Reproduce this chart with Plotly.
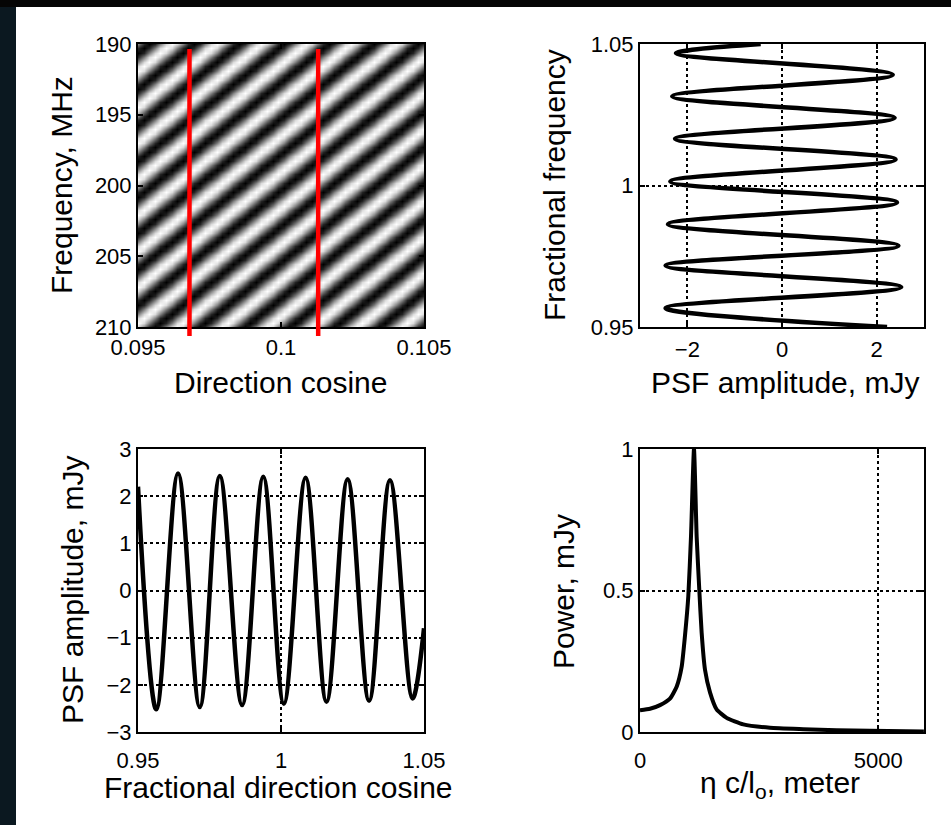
import plotly.graph_objects as go

W, H = 951, 825
FONT = "Liberation Sans, Arial, Helvetica, sans-serif"

# ---------------- data ----------------
# (a) fringe image: direction cosine vs frequency
dircos_ticks = [0.095, 0.1, 0.105]
dircos_ticktext = ["0.095", "0.1", "0.105"]
freq_ticks = [190, 195, 200, 205, 210]
red_line_dircos = [0.0968, 0.1013]
n_dircos = 52   # samples across direction cosine (about 6.5 fringes)
n_freq = 64     # samples across frequency (about 8 fringes)
# brightness read along the image diagonal (8 samples per fringe)
fringe_profile = [
    0, -.71, -1, -.71, 0, .71, 1, .71,
    0, -.71, -1, -.71, 0, .71, 1, .71,
    0, -.71, -1, -.71, 0, .71, 1, .71,
    0, -.71, -1, -.71, 0, .71, 1, .71,
    0, -.71, -1, -.71, 0, .71, 1, .71,
    0, -.71, -1, -.71, 0, .71, 1, .71,
    0, -.71, -1, -.71, 0, .71, 1, .71,
    0, -.71, -1, -.71, 0, .71, 1, .71,
    0, -.71, -1, -.71, 0, .71, 1, .71,
    0, -.71, -1, -.71, 0, .71, 1, .71,
    0, -.71, -1, -.71, 0, .71, 1, .71,
    0, -.71, -1, -.71, 0, .71, 1, .71,
    0, -.71, -1, -.71, 0, .71, 1, .71,
    0, -.71, -1, -.71, 0, .71, 1, .71,
    0, -.71, -1, -.71, 0, .71, 1, .71,
]

# (b) cut along frequency: fractional frequency vs PSF amplitude (mJy)
cut_freq_frac = [1.05, 1.0467, 1.0391, 1.0315, 1.0239, 1.0165, 1.0092, 1.0014,
                 0.9940, 0.9863, 0.9787, 0.9717, 0.9641, 0.9567, 0.95]
cut_freq_psf = [-0.45, -2.24, 2.34, -2.32, 2.38, -2.26, 2.40, -2.36,
                2.43, -2.41, 2.46, -2.46, 2.52, -2.46, 2.22]

# (c) cut along direction cosine: fractional direction cosine vs PSF amplitude (mJy)
cut_dir_frac = [0.95, 0.9564, 0.9640, 0.9716, 0.9786, 0.9864, 0.9938, 1.0010,
                1.0086, 1.0159, 1.0233, 1.0308, 1.0381, 1.0460, 1.05]
cut_dir_psf = [2.2, -2.52, 2.48, -2.47, 2.43, -2.43, 2.41, -2.40,
               2.39, -2.36, 2.36, -2.34, 2.34, -2.29, -0.8]

# (d) delay power spectrum
delay_m = [0, 210, 420, 629, 769, 874, 944, 1014, 1070, 1133, 1189, 1245, 1294,
           1364, 1469, 1608, 1818, 2168, 2727, 3427, 4126, 4825, 5958]
power_mjy = [0.077, 0.082, 0.095, 0.118, 0.16, 0.23, 0.34, 0.48, 0.69, 1.0, 0.69,
             0.5, 0.35, 0.22, 0.14, 0.08, 0.05, 0.027, 0.015, 0.01, 0.006, 0.004, 0.002]

# ---------------- figure ----------------
dx = (dircos_ticks[-1] - dircos_ticks[0]) / (n_dircos - 1)
dy = (freq_ticks[-1] - freq_ticks[0]) / (n_freq - 1)
grid_l = [dircos_ticks[0] + j * dx for j in range(n_dircos)]
grid_f = [freq_ticks[0] + i * dy for i in range(n_freq)]
z = [[fringe_profile[i + j] for j in range(n_dircos)] for i in range(n_freq)]

fig = go.Figure()
fig.add_trace(go.Heatmap(x=grid_l, y=grid_f, z=z, colorscale=[[0, "black"], [1, "white"]],
                         zmin=-1, zmax=1, zsmooth="best", showscale=False,
                         xaxis="x", yaxis="y", hoverinfo="skip"))
fig.add_trace(go.Scatter(x=cut_freq_psf, y=cut_freq_frac, mode="lines",
                         line=dict(color="black", width=4.5, shape="spline", smoothing=1),
                         xaxis="x2", yaxis="y2", showlegend=False))
fig.add_trace(go.Scatter(x=cut_dir_frac, y=cut_dir_psf, mode="lines",
                         line=dict(color="black", width=4.5, shape="spline", smoothing=1),
                         xaxis="x3", yaxis="y3", showlegend=False))
fig.add_trace(go.Scatter(x=delay_m, y=power_mjy, mode="lines",
                         line=dict(color="black", width=4, shape="spline", smoothing=0.5),
                         xaxis="x4", yaxis="y4", showlegend=False))


def px_x(p):
    return p / W


def px_y(p):
    return 1 - p / H


def axis(gridded=False, **kw):
    d = dict(showline=True, linecolor="black", linewidth=2, mirror="ticks",
             ticks="inside", ticklen=5, tickwidth=1.5, tickcolor="black",
             tickfont=dict(family=FONT, size=22, color="black"),
             zeroline=False, showgrid=False, fixedrange=True, automargin=False)
    if gridded:
        d.update(showgrid=True, gridcolor="black", gridwidth=1.5, griddash="dot")
    d.update(kw)
    return d


dom_left = [px_x(138), px_x(424)]
dom_right = [px_x(640), px_x(924)]
dom_top = [px_y(327), px_y(44)]
dom_bot = [px_y(732), px_y(449)]

fig.update_layout(
    width=W, height=H, autosize=False, margin=dict(l=0, r=0, t=0, b=0, pad=0),
    paper_bgcolor="white", plot_bgcolor="white", showlegend=False,
    font=dict(family=FONT, color="black"),
    xaxis=axis(domain=dom_left, anchor="y", range=[dircos_ticks[0], dircos_ticks[-1]],
               tickvals=dircos_ticks, ticktext=dircos_ticktext),
    yaxis=axis(domain=dom_top, anchor="x", range=[freq_ticks[-1], freq_ticks[0]],
               tickvals=freq_ticks),
    xaxis2=axis(True, domain=dom_right, anchor="y2", range=[-3, 3], tickvals=[-2, 0, 2],
                ticklabelstandoff=2),
    yaxis2=axis(True, domain=dom_top, anchor="x2", range=[0.95, 1.05],
                tickvals=[0.95, 1, 1.05], ticktext=["0.95", "1", "1.05"]),
    xaxis3=axis(True, domain=dom_left, anchor="y3", range=[0.95, 1.05],
                tickvals=[0.95, 1, 1.05], ticktext=["0.95", "1", "1.05"],
                ticklabelstandoff=8),
    yaxis3=axis(True, domain=dom_bot, anchor="x3", range=[-3, 3],
                tickvals=[-3, -2, -1, 0, 1, 2, 3]),
    xaxis4=axis(True, domain=dom_right, anchor="y4", range=[0, 5960], tickvals=[0, 5000],
                ticktext=["0", "5000"], ticklabelstandoff=8),
    yaxis4=axis(True, domain=dom_bot, anchor="x4", range=[0, 1], tickvals=[0, 0.5, 1],
                ticktext=["0", "0.5", "1"]),
)

# dark photo border (top and left)
fig.add_shape(type="rect", xref="paper", yref="paper", x0=0, x1=px_x(16), y0=0, y1=1,
              fillcolor="#0b1820", line_width=0, layer="below")
fig.add_shape(type="rect", xref="paper", yref="paper", x0=0, x1=1, y0=px_y(7), y1=1,
              fillcolor="#050505", line_width=0, layer="below")

# red marker lines on the fringe image
for lx in red_line_dircos:
    fig.add_shape(type="line", xref="x", yref="y domain", x0=lx, x1=lx, y0=-0.032, y1=0.982,
                  line=dict(color="#ff0000", width=4.5), layer="above")

TF = dict(family=FONT, size=30, color="black")
titles = [
    ("Direction cosine", 280, 382, 0),
    ("Frequency, MHz", 61, 185, -90),
    ("PSF amplitude, mJy", 785, 382, 0),
    ("Fractional frequency", 554, 185, -90),
    ("Fractional direction cosine", 278, 787, 0),
    ("PSF amplitude, mJy", 72, 590, -90),
    ("η c/l<sub>o</sub>, meter", 780, 784, 0),
    ("Power, mJy", 563, 592, -90),
]
for text, x, y, ang in titles:
    fig.add_annotation(text=text, x=px_x(x), y=px_y(y), xref="paper", yref="paper",
                       xanchor="center", yanchor="middle", showarrow=False,
                       textangle=ang, font=TF)

fig.write_html("out.html")
